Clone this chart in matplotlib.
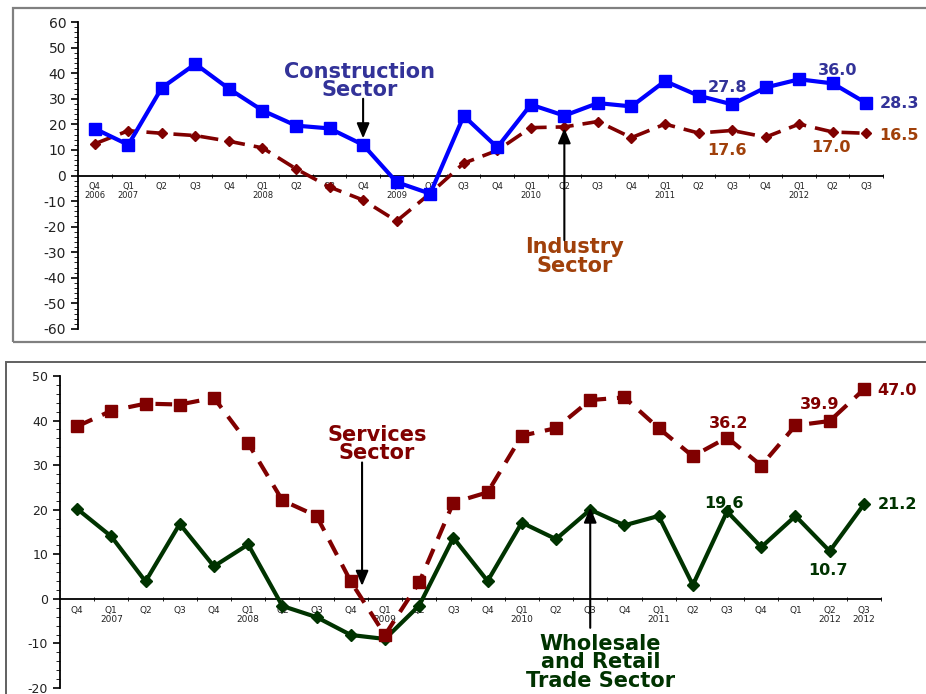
import matplotlib
matplotlib.use("Agg")
import matplotlib.pyplot as plt
from matplotlib.patches import Rectangle
from matplotlib.ticker import FixedLocator, MultipleLocator

plt.rcParams['font.family'] = ['DejaVu Sans']
plt.rcParams['axes.unicode_minus'] = False

# quarterly survey balances, Q4 2006 .. Q3 2012
top_labels = ['Q4\n2006', 'Q1\n2007', 'Q2', 'Q3', 'Q4', 'Q1\n2008', 'Q2', 'Q3',
              'Q4', 'Q1\n2009', 'Q2', 'Q3', 'Q4', 'Q1\n2010', 'Q2', 'Q3', 'Q4',
              'Q1\n2011', 'Q2', 'Q3', 'Q4', 'Q1\n2012', 'Q2', 'Q3']
bottom_labels = ['Q4', 'Q1\n2007', 'Q2', 'Q3', 'Q4', 'Q1\n2008', 'Q2', 'Q3',
                 'Q4', 'Q1\n2009', 'Q2', 'Q3', 'Q4', 'Q1\n2010', 'Q2', 'Q3', 'Q4',
                 'Q1\n2011', 'Q2', 'Q3', 'Q4', 'Q1', 'Q2\n2012', 'Q3\n2012']

construction = [18.3, 12.0, 34.3, 43.6, 33.9, 25.4, 19.5, 18.4, 12.0, -2.6, -7.1,
                23.3, 11.0, 27.7, 23.4, 28.3, 27.0, 36.9, 31.2, 27.8, 34.4, 37.6,
                36.0, 28.3]
industry = [12.4, 17.5, 16.5, 15.6, 13.4, 10.8, 2.6, -4.5, -9.6, -17.8, -7.0,
            4.8, 9.8, 18.7, 19.0, 21.1, 14.8, 20.1, 16.6, 17.6, 15.0, 20.1,
            17.0, 16.5]

services = [38.7, 42.2, 43.8, 43.6, 45.1, 34.9, 22.1, 18.6, 3.9, -8.1, 3.7,
            21.6, 23.9, 36.6, 38.3, 44.6, 45.2, 38.3, 32.0, 36.2, 29.9, 38.9,
            39.9, 47.0]
wholesale = [20.2, 14.0, 3.9, 16.8, 7.3, 12.2, -1.6, -4.1, -8.1, -9.0, -1.5,
             13.7, 4.0, 17.1, 13.4, 20.0, 16.5, 18.6, 3.1, 19.6, 11.6, 18.6,
             10.7, 21.2]

blue_txt = '#333399'
brown_txt = '#A0400A'
maroon = '#800000'
green = '#003300'

fig = plt.figure(figsize=(9.26, 6.94), dpi=100)

# panel frames
fig.add_artist(Rectangle((13 / 926, 1 - 342 / 694), 1.2, 334 / 694,
                         transform=fig.transFigure, fill=False,
                         edgecolor='#808080', lw=1.6))
fig.add_artist(Rectangle((6 / 926, -0.05), 1.2, 0.05 + 1 - 362 / 694,
                         transform=fig.transFigure, fill=False,
                         edgecolor='#606060', lw=1.4))


def style_axes(ax, labels, ymin, ymax, ysize, xsize):
    x = range(len(labels))
    ax.set_xlim(-0.5, len(labels) - 0.5)
    ax.set_ylim(ymin, ymax)
    for s in ('top', 'right'):
        ax.spines[s].set_visible(False)
    ax.spines['bottom'].set_position(('data', 0))
    ax.spines['bottom'].set_linewidth(1.3)
    ax.spines['left'].set_linewidth(1.3)
    ax.set_xticks(list(x))
    ax.set_xticklabels(labels, fontsize=xsize, linespacing=1.0, color='#222222')
    ax.xaxis.set_minor_locator(FixedLocator([i + 0.5 for i in x]))
    ax.tick_params(axis='x', which='major', length=0, pad=5)
    ax.tick_params(axis='x', which='minor', length=3, direction='inout')
    ax.yaxis.set_major_locator(MultipleLocator(10))
    ax.yaxis.set_minor_locator(MultipleLocator(2))
    ax.tick_params(axis='y', which='major', length=5, width=1.2,
                   labelsize=ysize, labelcolor='#222222')
    ax.tick_params(axis='y', which='minor', length=3)
    ax.patch.set_visible(False)


def arrow(ax, x, y0, y1):
    ax.annotate('', xy=(x, y1), xytext=(x, y0),
                arrowprops=dict(arrowstyle='-|>,head_length=0.9,head_width=0.38',
                                color='black', lw=1.5, shrinkA=0, shrinkB=0))


# construction and industry
ax1 = fig.add_axes([78 / 926, 1 - 329 / 694, 805 / 926, 307 / 694])
style_axes(ax1, top_labels, -60, 60, 10, 6)
x1 = range(len(construction))
ax1.plot(x1, industry, color=maroon, lw=2.6, dashes=(5, 2.5), marker='D',
         ms=5, zorder=3)
ax1.plot(x1, construction, color='#0000FF', lw=3, marker='s', ms=8, zorder=4)

ax1.text(7.9, 37, 'Construction\nSector', color=blue_txt, fontsize=15,
         fontweight='bold', ha='center', va='center', linespacing=0.9)
arrow(ax1, 8, 30, 14.5)
ax1.text(14.3, -31.6, 'Industry\nSector', color=brown_txt, fontsize=15,
         fontweight='bold', ha='center', va='center', linespacing=0.9)
arrow(ax1, 14, -25.3, 18.5)

vkw = dict(fontsize=11.5, fontweight='bold', va='center')
ax1.text(18.85, 34.3, f'{construction[19]:.1f}', color=blue_txt, ha='center', **vkw)
ax1.text(22.15, 40.9, f'{construction[22]:.1f}', color=blue_txt, ha='center', **vkw)
ax1.text(23.4, 28.1, f'{construction[23]:.1f}', color=blue_txt, ha='left', **vkw)
ax1.text(18.85, 9.7, f'{industry[19]:.1f}', color=brown_txt, ha='center', **vkw)
ax1.text(21.95, 10.9, f'{industry[22]:.1f}', color=brown_txt, ha='center', **vkw)
ax1.text(23.4, 15.6, f'{industry[23]:.1f}', color=brown_txt, ha='left', **vkw)

# services and wholesale / retail trade
ax2 = fig.add_axes([60 / 926, 1 - 688 / 694, 821 / 926, 312 / 694])
style_axes(ax2, bottom_labels, -20, 50, 9, 6.5)
x2 = range(len(services))
ax2.plot(x2, wholesale, color=green, lw=3, marker='D', ms=6.5, zorder=3)
ax2.plot(x2, services, color=maroon, lw=3, dashes=(4, 2.6), marker='s',
         ms=8, zorder=4)

ax2.text(8.77, 34.8, 'Services\nSector', color=maroon, fontsize=15,
         fontweight='bold', ha='center', va='center', linespacing=0.9)
arrow(ax2, 8.33, 30.6, 2.9)
ax2.text(15.3, -14.2, 'Wholesale\nand Retail\nTrade Sector', color=green,
         fontsize=15, fontweight='bold', ha='center', va='center',
         linespacing=0.9)
arrow(ax2, 15, -6.5, 20.5)

ax2.text(19.04, 39.4, f'{services[19]:.1f}', color=maroon, ha='center', **vkw)
ax2.text(21.7, 43.7, f'{services[22]:.1f}', color=maroon, ha='center', **vkw)
ax2.text(23.4, 46.8, f'{services[23]:.1f}', color=maroon, ha='left', **vkw)
ax2.text(18.9, 21.4, f'{wholesale[19]:.1f}', color=green, ha='center', **vkw)
ax2.text(21.96, 6.3, f'{wholesale[22]:.1f}', color=green, ha='center', **vkw)
ax2.text(23.4, 21.2, f'{wholesale[23]:.1f}', color=green, ha='left', **vkw)

fig.savefig('out.png', dpi=100)
